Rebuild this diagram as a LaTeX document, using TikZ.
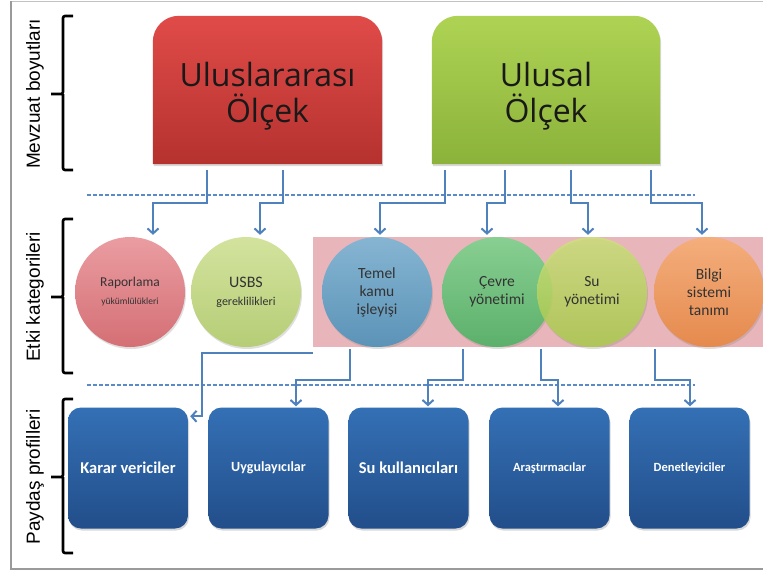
\documentclass[tikz,border=0pt]{standalone}
\usepackage{fontspec}
\setmainfont{Carlito}[Ligatures=NoCommon]
\newfontfamily\bigfont{Open Sans}
\newfontfamily\sidefont{Liberation Sans}
\usetikzlibrary{arrows.meta,calc,shadows}

\definecolor{frameGray}{HTML}{9A9A9A}
\definecolor{connBlue}{HTML}{4F81BD}
\definecolor{dashBlue}{HTML}{5A8BC8}
\definecolor{redTop}{HTML}{E04B48}
\definecolor{redBot}{HTML}{B5322F}
\definecolor{greenTop}{HTML}{AED354}
\definecolor{greenBot}{HTML}{8BB23A}
\definecolor{bandPink}{HTML}{E8B6BA}
\definecolor{circText}{HTML}{333333}
\definecolor{rapTop}{HTML}{EA9DA1}\definecolor{rapBot}{HTML}{D46F75}
\definecolor{usbsTop}{HTML}{D3E39E}\definecolor{usbsBot}{HTML}{B6CD76}
\definecolor{temTop}{HTML}{86B5D2}\definecolor{temBot}{HTML}{5B93B7}
\definecolor{cevTop}{HTML}{88CF92}\definecolor{cevBot}{HTML}{5CB06B}
\definecolor{suTop}{HTML}{CDE27A}\definecolor{suBot}{HTML}{A9CB48}
\definecolor{bilTop}{HTML}{F4AE7C}\definecolor{bilBot}{HTML}{E58A4E}
\definecolor{boxTop}{HTML}{3470B5}\definecolor{boxBot}{HTML}{224E8A}

\tikzset{
  scalebox/.style={inner sep=0pt, text=black!90, align=center,
    font=\bigfont\fontsize{32}{36}\selectfont},
  catcircle/.style={circle, minimum size=110pt, inner sep=0pt, align=center,
    text=circText, font=\fontsize{15.5}{18}\selectfont,
    drop shadow={shadow xshift=1pt, shadow yshift=-2pt, opacity=0.25}},
  profbox/.style={rectangle, rounded corners=13pt, minimum width=120pt,
    minimum height=121pt, inner sep=0pt, align=center, text=white,
    top color=boxTop, bottom color=boxBot,
    drop shadow={shadow xshift=1pt, shadow yshift=-2pt, opacity=0.3}},
  conn/.style={draw=connBlue, line width=2.2pt,
    -{Straight Barb[length=5pt,width=11pt,line width=2pt]}},
  sep/.style={draw=dashBlue, line width=1.2pt, dash pattern=on 4pt off 2pt},
  brace/.style={draw=black, line width=2.6pt, rounded corners=2pt},
  sidelabel/.style={rotate=90, font=\sidefont\fontsize{19}{21}\selectfont}
}

\begin{document}
\begin{tikzpicture}[x=1pt, y=-1pt]
\useasboundingbox (0,0) rectangle (763,574);
\fill[white] (0,0) rectangle (763,574);

% outer frame
\draw[frameGray!60, line width=1pt] (11,1) -- (763,1);
\draw[frameGray, line width=1.5pt] (11,1) -- (11,569) -- (763,569);

% side braces and their labels
\draw[brace] (73,16) -- (63,16) -- (63,94) -- (51,94) (63,94) -- (63,170) -- (73,170);
\draw[brace] (73,219) -- (63,219) -- (63,297) -- (51,297) (63,297) -- (63,373) -- (73,373);
\draw[brace] (73,399) -- (63,399) -- (63,477) -- (51,477) (63,477) -- (63,553) -- (73,553);
\node[sidelabel] (lab1) at (35,94) {Mevzuat boyutları};
\node[sidelabel] (lab2) at (35,297) {Etki kategorileri};
\node[sidelabel] (lab3) at (35,477) {Paydaş profilleri};

% dashed separators
\draw[sep] (87,195) -- (695,195);
\draw[sep] (87,385) -- (695,385);

% scale boxes (rounded on top only)
\node[minimum width=229pt, minimum height=148pt, inner sep=0pt] (intl) at (267.5,90) {};
\node[minimum width=228pt, minimum height=148pt, inner sep=0pt] (nat) at (546,90) {};
\path[top color=redTop, bottom color=redBot,
      drop shadow={shadow xshift=1pt, shadow yshift=-2pt, opacity=0.3}]
  (intl.south west) [rounded corners=26pt] -- (intl.north west) -- (intl.north east)
  [sharp corners] -- (intl.south east) -- cycle;
\path[top color=greenTop, bottom color=greenBot,
      drop shadow={shadow xshift=1pt, shadow yshift=-2pt, opacity=0.3}]
  (nat.south west) [rounded corners=26pt] -- (nat.north west) -- (nat.north east)
  [sharp corners] -- (nat.south east) -- cycle;
\node[scalebox] (intlt) at (267.5,96) {Uluslararası\\Ölçek};
\node[scalebox] (natt) at (546,96) {Ulusal\\Ölçek};

% category band and circles
\node[fill=bandPink, minimum width=450pt, minimum height=110pt, inner sep=0pt] (band) at (538,292) {};
\node[catcircle, top color=rapTop, bottom color=rapBot] (rap) at (130,292)
  {{\fontsize{13.5}{16}\selectfont Raporlama}\\{\fontsize{9.5}{11}\selectfont yükümlülükleri}};
\node[catcircle, top color=usbsTop, bottom color=usbsBot] (usbs) at (246,292)
  {{\fontsize{16}{18}\selectfont USBS}\\{\fontsize{12}{14}\selectfont gereklilikleri}};
\node[catcircle, top color=temTop, bottom color=temBot] (temel) at (377,292)
  {Temel\\kamu\\işleyişi};
\node[catcircle, top color=cevTop, bottom color=cevBot] (cevre) at (497,292)
  {Çevre\\yönetimi};
\node[catcircle, top color=suTop, bottom color=suBot, fill opacity=0.82, text opacity=1] (su) at (592,292)
  {Su\\yönetimi};
\node[catcircle, top color=bilTop, bottom color=bilBot] (bilgi) at (709,292)
  {Bilgi\\sistemi\\tanımı};

% stakeholder boxes
\node[profbox, font=\bfseries\fontsize{16.5}{18}\selectfont] (karar) at (128,468) {Karar vericiler};
\node[profbox, font=\bfseries\fontsize{14}{16}\selectfont] (uyg) at (268.5,468) {Uygulayıcılar};
\node[profbox, font=\bfseries\fontsize{16.5}{18}\selectfont] (sukul) at (408.5,468) {Su kullanıcıları};
\node[profbox, font=\bfseries\fontsize{12.5}{15}\selectfont] (aras) at (549.5,468) {Araştırmacılar};
\node[profbox, font=\bfseries\fontsize{12.5}{15}\selectfont] (denet) at (689.5,468) {Denetleyiciler};

% scale -> category connectors
\draw[conn] ($(intl.south)+(-60.5,6)$) |- ($(rap.north)+(23,-34)$) -- ($(rap.north)+(23,-2)$);
\draw[conn] ($(intl.south)+(15.5,6)$) |- ($(usbs.north)+(14,-34)$) -- ($(usbs.north)+(14,-2)$);
\draw[conn] ($(nat.south)+(-101,6)$) |- ($(temel.north)+(3,-34)$) -- ($(temel.north)+(3,-2)$);
\draw[conn] ($(nat.south)+(-41,6)$) |- ($(cevre.north)+(-10,-34)$) -- ($(cevre.north)+(-10,-2)$);
\draw[conn] ($(nat.south)+(25,6)$) |- ($(su.north)+(-4,-34)$) -- ($(su.north)+(-4,-2)$);
\draw[conn] ($(nat.south)+(105,6)$) |- ($(bilgi.north)+(-7,-34)$) -- ($(bilgi.north)+(-7,-2)$);

% category -> stakeholder connectors
\draw[conn] ($(band.south west)+(0,6)$) -| ($(karar.north east)+(14,9)$) -- ($(karar.north east)+(2,9)$);
\draw[conn] ($(temel.south)+(-27,2)$) |- ($(uyg.north)+(27.5,-27)$) -- ($(uyg.north)+(27.5,-1)$);
\draw[conn] ($(cevre.south)+(-34,2)$) |- ($(sukul.north)+(19.5,-27)$) -- ($(sukul.north)+(19.5,-1)$);
\draw[conn] ($(su.south)+(-51,2)$) |- ($(aras.north)+(8.5,-27)$) -- ($(aras.north)+(8.5,-1)$);
\draw[conn] ($(bilgi.south)+(-54,2)$) |- ($(denet.north)+(0.5,-27)$) -- ($(denet.north)+(0.5,-1)$);
\end{tikzpicture}
\end{document}
